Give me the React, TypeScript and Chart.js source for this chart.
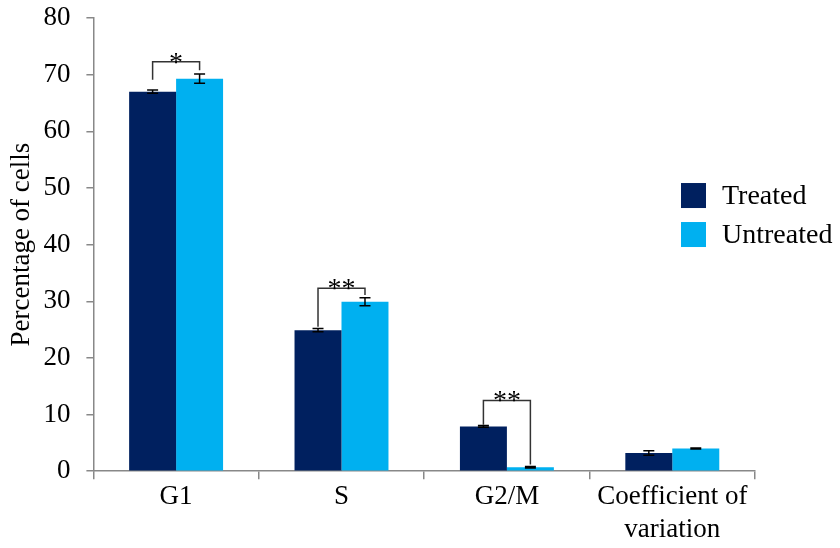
import React, { useEffect, useRef } from "react";
import { Chart, registerables } from "chart.js";

Chart.register(...registerables);

const categories: (string | string[])[] = ["G1", "S", "G2/M", ["Coefficient of", "variation"]];
const seriesNames = ["Treated", "Untreated"];
const seriesColors = ["#00205F", "#00B0F0"];
const treated = [67.0, 24.9, 7.9, 3.2];
const treatedErr = [0.3, 0.3, 0.15, 0.4];
const untreated = [69.3, 29.9, 0.7, 4.0];
const untreatedErr = [0.8, 0.7, 0.15, 0.1];
const yTicksMax = 80;
const yTicksStep = 10;
// significance brackets: category index, top level, left leg bottom, right leg bottom, label
const bracketCat = [0, 1, 2];
const bracketTop = [72.3, 32.3, 12.5];
const bracketLeft = [69.1, 25.5, 8.2];
const bracketRight = [70.8, 31.1, 1.2];
const bracketLabel = ["*", "**", "**"];

const FONT = "'Liberation Serif', 'Times New Roman', serif";

const errorBarPlugin = {
  id: "errorBars",
  afterDatasetsDraw(chart: any) {
    const ctx = chart.ctx;
    const y = chart.scales.y;
    const errs = [treatedErr, untreatedErr];
    ctx.save();
    ctx.strokeStyle = "#000";
    ctx.lineWidth = 1.5;
    chart.data.datasets.forEach((ds: any, di: number) => {
      const meta = chart.getDatasetMeta(di);
      meta.data.forEach((bar: any, i: number) => {
        const v = ds.data[i];
        const e = errs[di][i];
        const x = bar.x;
        const yt = y.getPixelForValue(v + e);
        const yb = y.getPixelForValue(v - e);
        const cap = 5.5;
        ctx.beginPath();
        ctx.moveTo(x, yt);
        ctx.lineTo(x, yb);
        ctx.moveTo(x - cap, yt);
        ctx.lineTo(x + cap, yt);
        ctx.moveTo(x - cap, yb);
        ctx.lineTo(x + cap, yb);
        ctx.stroke();
      });
    });
    // brackets
    ctx.strokeStyle = "#333";
    ctx.lineWidth = 1.5;
    ctx.fillStyle = "#000";
    ctx.font = `28px ${FONT}`;
    ctx.textAlign = "center";
    ctx.textBaseline = "alphabetic";
    const m0 = chart.getDatasetMeta(0);
    const m1 = chart.getDatasetMeta(1);
    bracketCat.forEach((c, k) => {
      const xl = m0.data[c].x;
      const xr = m1.data[c].x;
      const yt = y.getPixelForValue(bracketTop[k]);
      const yl = y.getPixelForValue(bracketLeft[k]);
      const yr = y.getPixelForValue(bracketRight[k]);
      ctx.beginPath();
      ctx.moveTo(xl, yl);
      ctx.lineTo(xl, yt);
      ctx.lineTo(xr, yt);
      ctx.lineTo(xr, yr);
      ctx.stroke();
      ctx.fillText(bracketLabel[k], (xl + xr) / 2, yt + 9);
    });
    ctx.restore();
  },
};

const legendPlugin = {
  id: "customLegend",
  afterDraw(chart: any) {
    const ctx = chart.ctx;
    const area = chart.chartArea;
    const x0 = area.right - 74;
    const y0 = area.top + 165;
    ctx.save();
    ctx.font = `28px ${FONT}`;
    ctx.textBaseline = "middle";
    ctx.textAlign = "left";
    seriesNames.forEach((name, i) => {
      const y = y0 + i * 39;
      ctx.fillStyle = seriesColors[i];
      ctx.fillRect(x0, y, 25, 25);
      ctx.fillStyle = "#000";
      ctx.fillText(name, x0 + 41, y + 14);
    });
    ctx.restore();
  },
};

export default function App() {
  const ref = useRef<HTMLCanvasElement>(null);
  useEffect(() => {
    if (!ref.current) return;
    const chart = new Chart(ref.current, {
      type: "bar",
      data: {
        labels: categories,
        datasets: [
          { label: seriesNames[0], data: treated, backgroundColor: seriesColors[0], borderWidth: 0 },
          { label: seriesNames[1], data: untreated, backgroundColor: seriesColors[1], borderWidth: 0 },
        ],
      },
      options: {
        animation: false,
        responsive: false,
        maintainAspectRatio: false,
        layout: { padding: { top: 12, right: 85, bottom: 0, left: 6 } },
        datasets: { bar: { categoryPercentage: 0.568, barPercentage: 1 } },
        plugins: {
          legend: { display: false },
          tooltip: { enabled: false },
        },
        scales: {
          x: {
            grid: { drawOnChartArea: false, drawTicks: true, tickLength: 8, color: "#888", lineWidth: 1.5 },
            border: { color: "#888", width: 1.5 },
            ticks: { color: "#000", font: { family: FONT, size: 27, lineHeight: 1.2 }, padding: 2, maxRotation: 0 },
          },
          y: {
            min: 0,
            max: yTicksMax,
            ticks: { stepSize: yTicksStep, color: "#000", font: { family: FONT, size: 27, lineHeight: 0.15 }, padding: 16 },
            grid: { drawOnChartArea: false, drawTicks: true, tickLength: 7, color: "#888", lineWidth: 1.5 },
            border: { color: "#888", width: 1.5 },
            title: { display: true, text: "Percentage of cells", color: "#000", font: { family: FONT, size: 27 }, padding: { top: 0, bottom: -11 } },
          },
        },
      },
      plugins: [errorBarPlugin, legendPlugin],
    });
    return () => chart.destroy();
  }, []);
  return (
    <div style={{ position: "fixed", left: 0, top: 0, width: 840, height: 548, background: "#fff" }}>
      <canvas ref={ref} width={840} height={548} />
    </div>
  );
}
